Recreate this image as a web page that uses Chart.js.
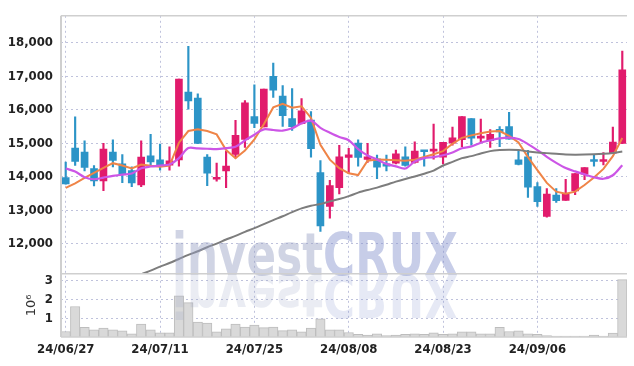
<!DOCTYPE html>
<html>
<head>
<meta charset="utf-8">
<script src="https://cdn.jsdelivr.net/npm/chart.js@4.4.1/dist/chart.umd.min.js"></script>
<style>
  html, body { margin: 0; padding: 0; background: #fff; }
  #wrap { width: 634px; height: 366px; }
</style>
</head>
<body>
<div id="wrap"><canvas id="chart"></canvas></div>
<script>
// trading days shown on the chart
const dates = ['24/06/27','24/06/28','24/07/01','24/07/02','24/07/03','24/07/04','24/07/05','24/07/08','24/07/09','24/07/10',
  '24/07/11','24/07/12','24/07/15','24/07/16','24/07/17','24/07/18','24/07/19','24/07/22','24/07/23','24/07/24',
  '24/07/25','24/07/26','24/07/29','24/07/30','24/07/31','24/08/01','24/08/02','24/08/05','24/08/06','24/08/07',
  '24/08/08','24/08/09','24/08/12','24/08/13','24/08/14','24/08/16','24/08/19','24/08/20','24/08/21','24/08/22',
  '24/08/23','24/08/26','24/08/27','24/08/28','24/08/29','24/08/30','24/09/02','24/09/03','24/09/04','24/09/05',
  '24/09/06','24/09/09','24/09/10','24/09/11','24/09/12','24/09/13','24/09/19','24/09/20','24/09/23','24/09/24']

// prices
const open = [13980,14860,14740,14250,13880,14740,14390,14190,13760,14630,14510,14350,14510,16530,16350,14590,13930,14180,14670,15120,
  15800,15490,17000,16410,15740,15590,15700,14130,13120,13680,14580,15010,14520,14540,14390,14410,14600,14430,14770,14770,
  14590,15010,15110,15740,15160,15080,15420,15500,14510,14600,13710,12820,13460,13300,13580,14080,14480,14460,14710,15000]
const high = [14440,15790,15080,14340,15000,15110,14670,14300,15080,15270,14980,14900,16920,17900,16480,14670,14410,14760,15690,16280,
  16750,16620,17400,16730,16640,16340,15950,14490,13900,14940,14850,15110,15000,14650,14650,14800,14900,15050,14790,15580,
  15030,15490,15800,15740,15730,15410,15500,15930,14760,14790,13830,13650,13650,13930,14100,14280,14670,14730,15490,17760]
const low = [13780,14340,14180,13730,13590,14300,13830,13710,13710,14340,14200,14200,14320,16020,14990,13740,13870,13680,14570,14880,
  15470,15490,16370,15510,15390,15580,14590,12370,12770,13490,14100,14320,14430,13950,14180,14390,14320,14410,14320,14530,
  14390,14950,14900,14950,15030,14880,14900,15130,14360,13390,13120,12800,13240,13300,13470,13920,14320,14360,14710,14990]
const close = [13790,14460,14280,13880,14830,14490,14080,13820,14590,14450,14350,14480,16920,16270,15000,14110,13980,14320,15240,16210,
  15600,16620,16590,15830,15500,15970,14840,12540,13740,14600,14660,14580,14600,14290,14320,14690,14340,14770,14750,14830,
  15030,15170,15800,15160,15210,15270,15340,15130,14370,13690,13260,13490,13290,13500,14100,14280,14460,14500,15040,17200]

// moving averages
const ma5 = [13670,13810,13970,14120,14270,14410,14340,14250,14370,14330,14300,14340,15020,15370,15420,15370,15270,14800,14560,14790,
  15120,15570,16075,16180,16065,16110,15760,14960,14515,14260,14110,14055,14485,14520,14510,14500,14480,14515,14595,14675,
  14770,14990,15165,15240,15305,15355,15370,15225,15030,14590,14200,13820,13560,13500,13560,13760,13980,14240,14620,15160]
const ma20 = [14250,14160,13990,13930,13980,14030,14070,14100,14260,14310,14340,14370,14560,14860,14850,14840,14830,14860,14900,15090,
  15260,15420,15400,15380,15450,15600,15680,15465,15320,15190,15095,14830,14640,14520,14390,14315,14250,14460,14560,14590,
  14645,14730,14855,14910,15020,15090,15150,15175,15130,14980,14800,14600,14420,14265,14165,14075,13990,13945,14050,14350]
const ma60 = [null,null,null,null,null,null,null,10970,11090,11200,11320,11430,11550,11670,11780,11900,12010,12130,12240,12360,
  12470,12590,12710,12825,12950,13060,13140,13190,13270,13340,13425,13530,13610,13680,13765,13860,13940,14010,14095,14190,
  14340,14450,14560,14620,14700,14770,14800,14812,14800,14760,14730,14710,14690,14670,14665,14668,14675,14690,14715,14760]

// volume in millions of shares
const volume = [0.29,1.62,0.52,0.38,0.47,0.38,0.33,0.17,0.69,0.38,0.22,0.22,2.19,1.83,0.79,0.74,0.28,0.43,0.69,0.53,
  0.64,0.50,0.53,0.34,0.38,0.28,0.47,0.97,0.38,0.38,0.24,0.14,0.10,0.17,0.07,0.10,0.14,0.17,0.14,0.22,
  0.14,0.17,0.28,0.28,0.17,0.17,0.52,0.29,0.33,0.17,0.14,0.07,0.05,0.05,0.05,0.05,0.10,0.05,0.21,3.05]

// tick labels
const priceTicks = [12000, 13000, 14000, 15000, 16000, 17000, 18000]
const volumeTicks = [1, 2, 3]

const UP = '#e11b6c'
const DOWN = '#2c94c7'
const GRID = '#bfc2dc'
const FONT = '"DejaVu Sans Condensed", sans-serif'

// build bar ranges for the candles
const bodies = open.map((o, i) => [o, close[i]])
const wicks = low.map((l, i) => [l, high[i]])
const candleColors = open.map((o, i) => (close[i] >= o ? UP : DOWN))

// watermark, drawn over the marks with low opacity
const watermark = {
  id: 'watermark',
  afterDatasetsDraw(chart) {
    const ctx = chart.ctx
    ctx.save()
    ctx.font = 'bold 59px "DejaVu Sans"'
    const w1 = ctx.measureText('invest').width
    const w2 = ctx.measureText('CRUX').width
    const sx = 286 / (w1 + w2)
    ctx.translate(172, 275)
    ctx.scale(sx, 1)
    ctx.fillStyle = 'rgba(150,160,195,0.45)'
    ctx.fillText('invest', 0, 0)
    ctx.fillStyle = 'rgba(130,145,205,0.45)'
    ctx.fillText('CRUX', w1, 0)
    // reflection
    ctx.scale(1, -1)
    ctx.fillStyle = 'rgba(150,160,195,0.2)'
    ctx.fillText('invest', 0, 0)
    ctx.fillStyle = 'rgba(130,145,205,0.2)'
    ctx.fillText('CRUX', w1, 0)
    ctx.restore()
  },
}

// frame lines round the panels
const frame = {
  id: 'frame',
  afterDraw(chart) {
    const ctx = chart.ctx
    const a = chart.chartArea
    const y = chart.scales.y
    ctx.save()
    ctx.strokeStyle = '#cfcfcf'
    ctx.lineWidth = 1.5
    ctx.beginPath()
    ctx.moveTo(a.left, y.bottom)
    ctx.lineTo(a.right, y.bottom)
    ctx.moveTo(a.left, a.top)
    ctx.lineTo(a.right, a.top)
    ctx.moveTo(a.left, a.bottom)
    ctx.lineTo(a.right, a.bottom)
    ctx.stroke()
    // solid left edge
    ctx.lineWidth = 2
    ctx.beginPath()
    ctx.moveTo(a.left, a.top)
    ctx.lineTo(a.left, a.bottom)
    ctx.stroke()
    ctx.restore()
  },
}

const tickFont = { family: FONT, size: 13, weight: 'bold' }

new Chart(document.getElementById('chart'), {
  type: 'bar',
  data: {
    labels: dates,
    datasets: [
      {
        type: 'line', data: ma60, yAxisID: 'y', order: 0,
        borderColor: '#7d7d7d', borderWidth: 2, pointRadius: 0, tension: 0.3,
      },
      {
        type: 'line', data: ma20, yAxisID: 'y', order: 0,
        borderColor: '#cc55e6', borderWidth: 2.2, pointRadius: 0, tension: 0.3,
      },
      {
        type: 'line', data: ma5, yAxisID: 'y', order: 0,
        borderColor: '#ef8447', borderWidth: 2, pointRadius: 0, tension: 0,
      },
      {
        data: bodies, yAxisID: 'y', order: 1, grouped: false,
        backgroundColor: candleColors, barThickness: 7, minBarLength: 2,
      },
      {
        data: wicks, yAxisID: 'y', order: 2, grouped: false,
        backgroundColor: candleColors, barThickness: 1.5,
      },
      {
        data: volume, yAxisID: 'yv', order: 3, grouped: false,
        backgroundColor: '#d9d9d9', borderColor: '#bdbdbd', borderWidth: 1,
        barPercentage: 1, categoryPercentage: 1,
      },
    ],
  },
  options: {
    responsive: true,
    maintainAspectRatio: false,
    animation: false,
    layout: { padding: { left: 0, top: 9, right: 7, bottom: 0 } },
    plugins: { legend: { display: false }, tooltip: { enabled: false } },
    scales: {
      x: {
        offset: true,
        grid: {
          offset: false, drawTicks: false,
          color: (c) => (c.index % 10 === 0 ? GRID : 'transparent'),
        },
        border: { display: false, dash: [2, 3] },
        ticks: {
          autoSkip: false, maxRotation: 0, padding: 5, color: '#222', font: tickFont,
          callback: (v, i) => (i % 10 === 0 ? dates[i] : ''),
        },
        afterFit: (s) => { s.height = 29 },
      },
      yv: {
        position: 'left', stack: 'panel', stackWeight: 1,
        min: 0, max: 3.36,
        grid: { drawTicks: false, color: GRID },
        border: { display: false, dash: [2, 3] },
        ticks: { autoSkip: false, padding: 8, color: '#222', font: tickFont },
        afterBuildTicks: (s) => { s.ticks = volumeTicks.map((v) => ({ value: v })) },
        title: {
          display: true, text: '10⁶', color: '#333',
          font: { family: '"DejaVu Sans"', size: 13 },
          padding: { top: 24, bottom: 0 },
        },
        afterFit: (s) => { s.width = 61 },
      },
      y: {
        position: 'left', stack: 'panel', stackWeight: 4.08,
        min: 11108, max: 18810,
        grid: { color: GRID, drawTicks: false },
        border: { display: false, dash: [2, 3] },
        ticks: { autoSkip: false, padding: 8, color: '#222', font: tickFont },
        afterBuildTicks: (s) => { s.ticks = priceTicks.map((v) => ({ value: v })) },
        afterFit: (s) => { s.width = 61 },
      },
    },
  },
  plugins: [watermark, frame],
})
</script>
</body>
</html>
